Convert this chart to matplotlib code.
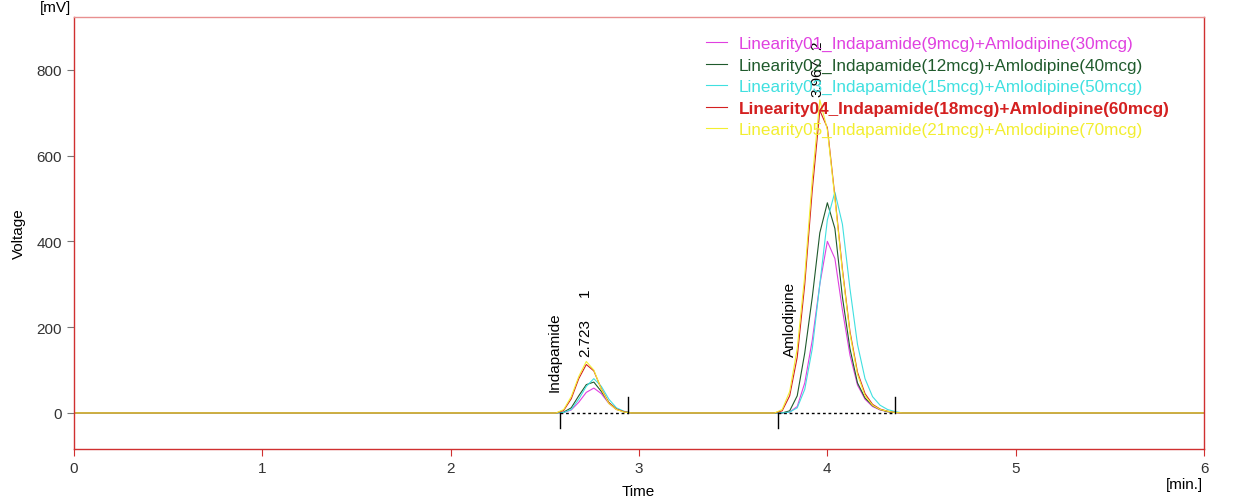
import matplotlib
matplotlib.use("Agg")
import matplotlib.pyplot as plt

plt.rcParams["font.family"] = ["Liberation Sans", "DejaVu Sans"]

t_peak1 = [2.56, 2.60, 2.64, 2.68, 2.72, 2.76, 2.80, 2.84, 2.88, 2.92, 2.96]
t_peak2 = [3.72, 3.76, 3.80, 3.84, 3.88, 3.92, 3.96, 4.00, 4.04, 4.08, 4.12,
           4.16, 4.20, 4.24, 4.28, 4.32, 4.36, 4.40]
t_all = [0.0] + t_peak1 + t_peak2 + [6.0]

labels = [
    "Linearity01_Indapamide(9mcg)+Amlodipine(30mcg)",
    "Linearity02_Indapamide(12mcg)+Amlodipine(40mcg)",
    "Linearity03_Indapamide(15mcg)+Amlodipine(50mcg)",
    "Linearity04_Indapamide(18mcg)+Amlodipine(60mcg)",
    "Linearity05_Indapamide(21mcg)+Amlodipine(70mcg)",
]
colors = ["#e040e0", "#1f5a2c", "#40e0e0", "#d42020", "#f2ee30"]

# voltages (mV) on the grids above
indap = [
    [0, 1, 7, 25, 48, 58, 45, 22, 8, 3, 0],
    [0, 2, 12, 40, 66, 72, 50, 24, 9, 3, 0],
    [0, 1, 8, 32, 62, 80, 62, 32, 12, 4, 0],
    [0, 6, 33, 80, 113, 98, 56, 24, 9, 3, 0],
    [0, 8, 38, 85, 120, 100, 55, 22, 8, 2, 0],
]
amlo = [
    [0, 0, 2, 15, 70, 170, 300, 400, 360, 240, 135, 65, 32, 15, 7, 3, 1, 0],
    [0, 0, 5, 40, 140, 270, 420, 490, 430, 270, 150, 70, 35, 17, 8, 3, 1, 0],
    [0, 0, 2, 12, 55, 150, 300, 450, 515, 440, 290, 160, 80, 38, 18, 8, 3, 0],
    [0, 5, 40, 130, 300, 520, 705, 665, 505, 335, 190, 95, 45, 20, 9, 4, 1, 0],
    [0, 8, 50, 150, 320, 545, 730, 660, 500, 330, 185, 90, 40, 18, 8, 4, 1, 0],
]

# integration limits
peak_start = [2.58, 3.74]
peak_end = [2.94, 4.36]

fig = plt.figure(figsize=(12.34, 5.02), dpi=100)
ax = fig.add_axes([0.060, 0.1036, 0.9157, 0.8605])

for lab, col, v1, v2 in zip(labels, colors, indap, amlo):
    ax.plot(t_all, [0] + v1 + v2 + [0], color=col, lw=0.8, label=lab)

for s, e in zip(peak_start, peak_end):
    ax.plot([s, e], [0, 0], color="black", lw=1, ls=(0, (2, 2)))
    ax.plot([s, s], [0, -35], color="black", lw=1)
    ax.plot([e, e], [0, 37], color="black", lw=1)

fs = 11
ax.text(2.55, 52, "Indapamide", rotation=90, ha="center", va="bottom", fontsize=fs)
ax.text(2.714, 133, "2.723", rotation=90, ha="center", va="bottom", fontsize=fs)
ax.text(2.714, 272, "1", rotation=90, ha="center", va="bottom", fontsize=fs)
ax.text(3.80, 133, "Amlodipine", rotation=90, ha="center", va="bottom", fontsize=fs)
ax.text(3.946, 739, "3.967", rotation=90, ha="center", va="bottom", fontsize=fs)
ax.text(3.946, 849, "2", rotation=90, ha="center", va="bottom", fontsize=fs)

ax.set_xlim(0, 6)
ax.set_ylim(-84, 923)
ax.set_xticks(range(0, 7))
ax.set_yticks([0, 200, 400, 600, 800])

for sp in ax.spines.values():
    sp.set_color("#d03030")
    sp.set_linewidth(1)
ax.spines["top"].set_color("#e89090")

ax.tick_params(axis="x", colors="#d03030", length=5, labelsize=fs, labelcolor="#333333")
ax.tick_params(axis="y", colors="#777777", length=5, labelsize=fs, labelcolor="#333333")

ax.set_ylabel("Voltage", fontsize=fs, labelpad=8)
fig.text(0.517, 0.005, "Time", ha="center", va="bottom", fontsize=fs)
fig.text(0.975, 0.02, "[min.]", ha="right", va="bottom", fontsize=fs)
fig.text(0.045, 0.97, "[mV]", ha="center", va="bottom", fontsize=fs)

leg = ax.legend(loc="upper left", bbox_to_anchor=(0.546, 0.992), frameon=False,
                fontsize=12.3, handlelength=1.2, handletextpad=0.7,
                labelspacing=0.38, labelcolor="linecolor")
leg.get_texts()[3].set_fontweight("bold")

fig.savefig("out.png", dpi=100)
